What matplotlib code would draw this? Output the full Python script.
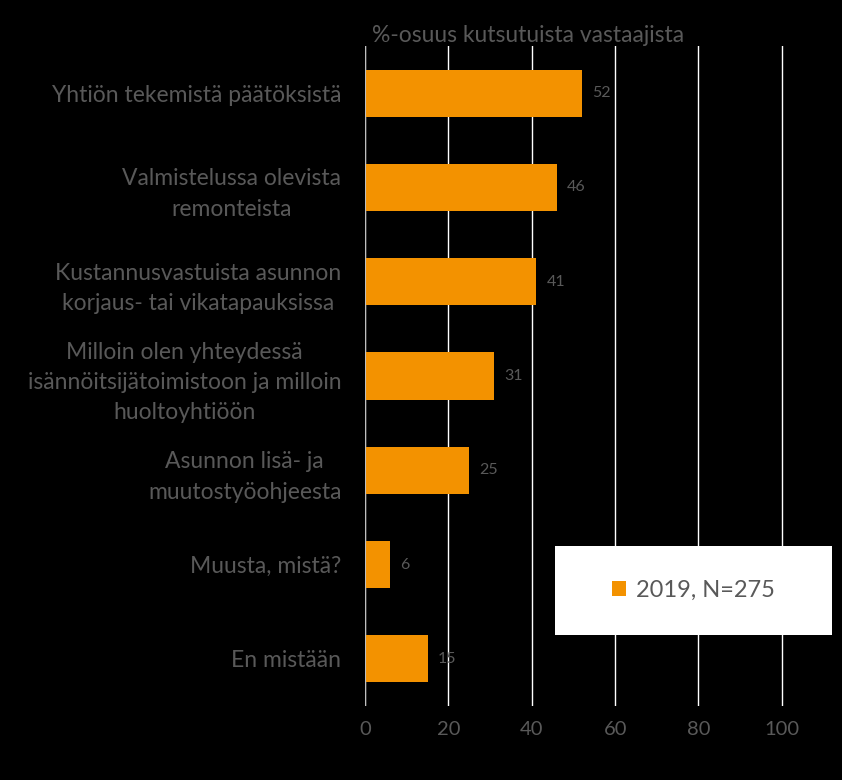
import matplotlib.pyplot as plt
from matplotlib.patches import Rectangle

categories = [
    'Yhtiön tekemistä päätöksistä',
    'Valmistelussa olevista\nremonteista',
    'Kustannusvastuista asunnon\nkorjaus- tai vikatapauksissa',
    'Milloin olen yhteydessä\nisännöitsijätoimistoon ja milloin\nhuoltoyhtiöön',
    'Asunnon lisä- ja\nmuutostyöohjeesta',
    'Muusta, mistä?',
    'En mistään',
]
values = [52, 46, 41, 31, 25, 6, 15]
series_label = '2019, N=275'
x_title = '%-osuus kutsutuista vastaajista'
x_ticks = [0, 20, 40, 60, 80, 100]

orange = '#f39200'
gray = '#595959'

plt.rcParams['font.family'] = ['Lato', 'DejaVu Sans']

fig = plt.figure(figsize=(8.42, 7.80), dpi=100, facecolor='black')
ax = fig.add_axes([0.4335, 0.0949, 0.5545, 0.8462], facecolor='black')

y = list(range(len(categories)))
bars = ax.barh(y, values, height=0.5, color=orange, label=series_label, zorder=3)
ax.set_ylim(len(categories) - 0.5, -0.5)
ax.set_xlim(0, 112)

ax.set_xticks(x_ticks)
ax.set_xticklabels([str(t) for t in x_ticks], color=gray, fontsize=14.5)
ax.set_yticks(y)
ax.set_yticklabels(categories, color=gray, fontsize=16.5, linespacing=1.55)
for lab in ax.get_yticklabels():
    lab.set_multialignment('center')
ax.tick_params(axis='y', length=0, pad=17)
ax.tick_params(axis='x', length=0, pad=11)

ax.grid(axis='x', color='white', linewidth=1, zorder=0)
ax.axvline(0, color='#bfbfbf', linewidth=1.5, zorder=4)
for s in ax.spines.values():
    s.set_visible(False)

for b, v in zip(bars, values):
    ax.text(v + 2.5, b.get_y() + b.get_height() / 2, str(v), color=gray,
            fontsize=11.5, va='center', ha='left')

ax.text(0.015, 1.0, x_title, transform=ax.transAxes, color=gray,
        fontsize=16.5, ha='left', va='bottom')

# legend box
box = Rectangle((0.407, 0.108), 0.593, 0.134, transform=ax.transAxes,
                facecolor='white', edgecolor='none', zorder=5)
ax.add_patch(box)
leg = ax.legend(loc='center', bbox_to_anchor=(0.407 + 0.593 / 2, 0.175),
                frameon=False, fontsize=17, handlelength=0.6, handleheight=0.6,
                handletextpad=0.4)
leg.set_zorder(6)
for t in leg.get_texts():
    t.set_color(gray)

fig.savefig('out.png', dpi=100, facecolor='black')
